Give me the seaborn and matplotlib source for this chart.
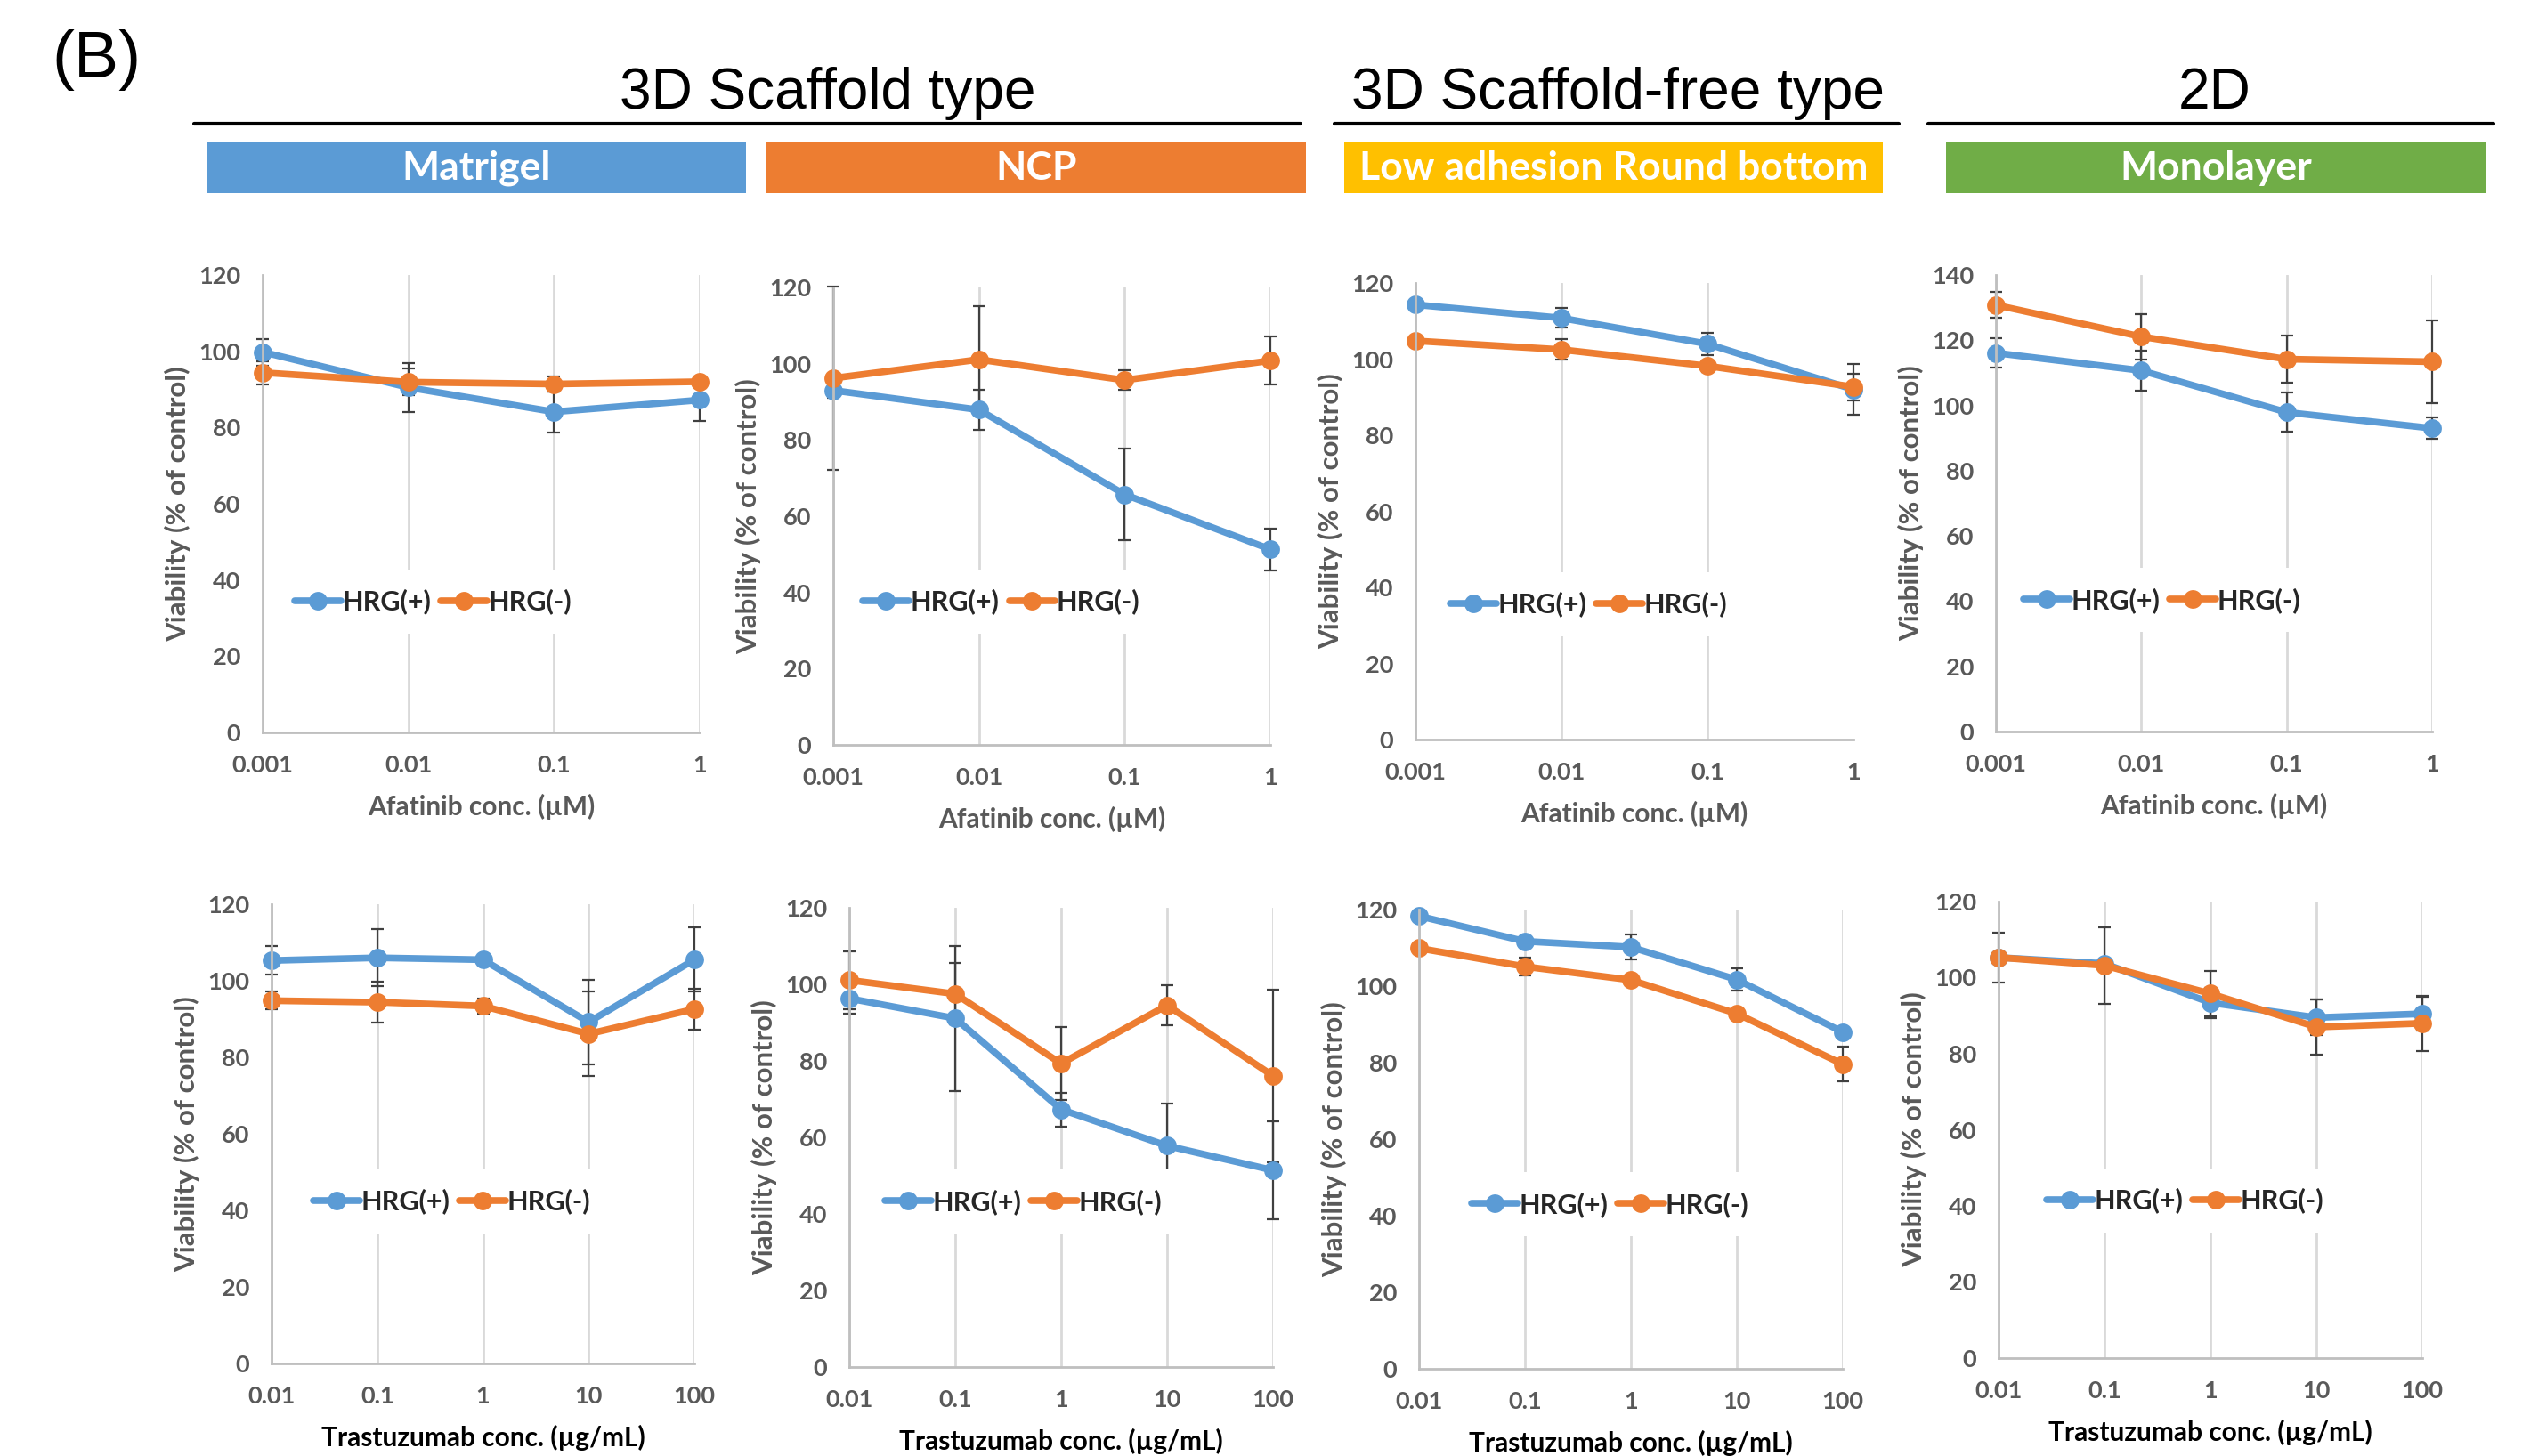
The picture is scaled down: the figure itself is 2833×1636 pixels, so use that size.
import matplotlib
matplotlib.use("Agg")
import matplotlib.pyplot as plt
from matplotlib.lines import Line2D
from matplotlib.patches import Rectangle
import pandas as pd
import seaborn as sns

# ---- data ----
afatinib_conc = [0.001, 0.01, 0.1, 1]
afatinib_ticks = ["0.001", "0.01", "0.1", "1"]
trastuzumab_conc = [0.01, 0.1, 1, 10, 100]
trastuzumab_ticks = ["0.01", "0.1", "1", "10", "100"]

mat_afa_pos = [99.8, 90.5, 84.1, 87.2]
mat_afa_pos_err = [3.5, 6.5, 5.4, 5.6]
mat_afa_neg = [94.4, 91.9, 91.4, 92.0]
mat_afa_neg_err = [3.0, 3.5, 2.0, 1.0]

ncp_afa_pos = [93.0, 87.9, 65.7, 51.3]
ncp_afa_pos_err = [2.0, 5.3, 12.0, 5.5]
ncp_afa_neg = [96.2, 101.1, 95.7, 100.8]
ncp_afa_neg_err = [24.0, 14.0, 2.5, 6.3]

low_afa_pos = [114.3, 110.8, 104.0, 92.0]
low_afa_pos_err = [0.5, 2.6, 3.0, 6.7]
low_afa_neg = [104.8, 102.5, 98.2, 92.7]
low_afa_neg_err = [0.5, 2.7, 1.5, 3.5]

mono_afa_pos = [116.1, 110.7, 97.9, 93.0]
mono_afa_pos_err = [4.6, 6.2, 6.0, 3.2]
mono_afa_neg = [130.8, 121.1, 114.2, 113.4]
mono_afa_neg_err = [4.0, 6.9, 7.3, 12.7]

mat_tra_pos = [105.3, 106.0, 105.5, 89.2, 105.5]
mat_tra_pos_err = [3.7, 7.5, 0.5, 11.0, 8.4]
mat_tra_neg = [94.8, 94.4, 93.4, 86.1, 92.6]
mat_tra_neg_err = [2.3, 5.3, 2.0, 11.0, 5.3]

ncp_tra_pos = [96.3, 91.1, 67.3, 57.8, 51.4]
ncp_tra_pos_err = [4.0, 19.0, 4.4, 11.0, 12.7]
ncp_tra_neg = [101.1, 97.5, 79.3, 94.5, 76.1]
ncp_tra_neg_err = [7.5, 8.0, 9.5, 5.3, 22.5]

low_tra_pos = [118.3, 111.7, 110.2, 101.7, 88.0]
low_tra_pos_err = [0.5, 0.5, 3.3, 2.9, 0.5]
low_tra_neg = [109.9, 105.1, 101.6, 92.8, 79.6]
low_tra_neg_err = [0.5, 2.4, 0.5, 1.0, 4.5]

mono_tra_pos = [105.3, 103.7, 93.4, 89.5, 90.5]
mono_tra_pos_err = [6.6, 1.0, 4.0, 4.7, 4.4]
mono_tra_neg = [105.3, 103.2, 95.8, 87.0, 88.0]
mono_tra_neg_err = [1.0, 10.0, 6.0, 7.3, 7.3]

groups = ["HRG(+)", "HRG(-)"]
group_colors = {"HRG(+)": "#5B9BD5", "HRG(-)": "#ED7D31"}

culture_names = ["Matrigel", "NCP", "Low adhesion Round bottom", "Monolayer"]
culture_colors = ["#5B9BD5", "#ED7D31", "#FFC000", "#70AD47"]
type_names = ["3D Scaffold type", "3D Scaffold-free type", "2D"]

W, H = 2833, 1636
sns.set_theme(style="white")
plt.rcParams["font.family"] = ["Lato", "DejaVu Sans"]
fig = plt.figure(figsize=(W / 100, H / 100), dpi=100)


def fx(x):
    return x / W


def fy(y):
    return 1 - y / H


# ---- header ----
fig.text(fx(58), fy(68), "(B)", fontsize=54, family="Liberation Sans",
         ha="left", va="center", color="black")
title_specs = [(930, 218, 1461), (1818, 1499, 2133), (2488, 2166, 2801)]
for name, (cx, x0, x1) in zip(type_names, title_specs):
    fig.text(fx(cx), fy(122), name, fontsize=46, family="Liberation Sans",
             ha="center", va="baseline", color="black")
    fig.add_artist(Line2D([fx(x0), fx(x1)], [fy(139), fy(139)],
                          color="black", linewidth=3))
box_specs = [(232, 838), (861, 1467), (1510, 2115), (2186, 2792)]
for name, color, (x0, x1) in zip(culture_names, culture_colors, box_specs):
    fig.add_artist(Rectangle((fx(x0), fy(217)), fx(x1 - x0), 58 / H,
                             facecolor=color, edgecolor="none"))
    fig.text(fx((x0 + x1) / 2), fy(189), name, fontsize=32, fontweight="bold",
             color="white", ha="center", va="center")

# ---- panels ----
panels = [
    # (x0, x1, ytop, ybottom), conc, ticks, pos, pos_err, neg, neg_err, ymax, legend anchor, bottom row
    ((295, 786, 309, 823), afatinib_conc, afatinib_ticks, mat_afa_pos, mat_afa_pos_err,
     mat_afa_neg, mat_afa_neg_err, 120, (0.39, 0.286), False),
    ((936, 1427, 323, 837), afatinib_conc, afatinib_ticks, ncp_afa_pos, ncp_afa_pos_err,
     ncp_afa_neg, ncp_afa_neg_err, 120, (0.385, 0.313), False),
    ((1590, 2082, 318, 831), afatinib_conc, afatinib_ticks, low_afa_pos, low_afa_pos_err,
     low_afa_neg, low_afa_neg_err, 120, (0.396, 0.296), False),
    ((2242, 2732, 309, 822), afatinib_conc, afatinib_ticks, mono_afa_pos, mono_afa_pos_err,
     mono_afa_neg, mono_afa_neg_err, 140, (0.38, 0.288), False),
    ((305, 780, 1016, 1532), trastuzumab_conc, trastuzumab_ticks, mat_tra_pos, mat_tra_pos_err,
     mat_tra_neg, mat_tra_neg_err, 120, (0.427, 0.353), True),
    ((954, 1430, 1020, 1536), trastuzumab_conc, trastuzumab_ticks, ncp_tra_pos, ncp_tra_pos_err,
     ncp_tra_neg, ncp_tra_neg_err, 120, (0.41, 0.36), True),
    ((1594, 2070, 1022, 1538), trastuzumab_conc, trastuzumab_ticks, low_tra_pos, low_tra_pos_err,
     low_tra_neg, low_tra_neg_err, 120, (0.45, 0.358), True),
    ((2245, 2721, 1013, 1526), trastuzumab_conc, trastuzumab_ticks, mono_tra_pos, mono_tra_pos_err,
     mono_tra_neg, mono_tra_neg_err, 120, (0.44, 0.345), True),
]

for (box, conc, ticks, pos, pos_err, neg, neg_err, ymax, anchor, bottom) in panels:
    x0, x1, yt, yb = box
    ax = fig.add_axes([fx(x0), fy(yb), fx(x1 - x0), (yb - yt) / H])
    df = pd.DataFrame({
        "conc": conc + conc,
        "viability": pos + neg,
        "err": pos_err + neg_err,
        "group": [groups[0]] * len(conc) + [groups[1]] * len(conc),
    })
    ax.set_xscale("log")
    for g in groups:
        sub = df[df["group"] == g]
        ax.errorbar(sub["conc"], sub["viability"], yerr=sub["err"], fmt="none",
                    ecolor="#404040", elinewidth=1.6, capsize=5, capthick=1.6,
                    zorder=1.5, clip_on=False)
    sns.lineplot(data=df, x="conc", y="viability", hue="group", hue_order=groups,
                 palette=group_colors, marker="o", markersize=15, markeredgewidth=0,
                 linewidth=5.5, legend=False, ax=ax, zorder=2, clip_on=False)
    ax.set_xlim(conc[0], conc[-1])
    ax.set_ylim(0, ymax)
    ax.set_xticks(conc)
    ax.set_xticklabels(ticks)
    ax.minorticks_off()
    ax.set_yticks(range(0, ymax + 1, 20))
    ax.tick_params(axis="both", length=0, labelsize=19.5, labelcolor="#595959", pad=18)
    for lab in ax.get_xticklabels() + ax.get_yticklabels():
        lab.set_fontweight("bold")
    ax.grid(axis="x", color="#D9D9D9", linewidth=2)
    ax.grid(axis="y", visible=False)
    for side in ["top", "right"]:
        ax.spines[side].set_visible(False)
    for side in ["left", "bottom"]:
        ax.spines[side].set_color("#BFBFBF")
        ax.spines[side].set_linewidth(2)
    ax.set_ylabel("Viability (% of control)", fontsize=22.5, fontweight="bold",
                  color="#595959", labelpad=6)
    if bottom:
        ax.set_xlabel("Trastuzumab conc. (µg/mL)", fontsize=21.5, fontweight="bold",
                      color="black", labelpad=14)
    else:
        ax.set_xlabel("Afatinib conc. (µM)", fontsize=21.5, fontweight="bold",
                      color="#595959", labelpad=14)
    handles = [Line2D([], [], color=group_colors[g], linewidth=5.5, marker="o",
                      markersize=15, markeredgewidth=0) for g in groups]
    leg = ax.legend(handles, groups, loc="center", bbox_to_anchor=anchor, ncol=2,
                    frameon=True, facecolor="white", edgecolor="none", framealpha=1,
                    handlelength=1.7, handletextpad=0.05, columnspacing=0.35,
                    borderpad=0.7, prop={"weight": "bold", "size": 22})
    leg.set_zorder(1.8)

fig.savefig("out.png", dpi=100)
